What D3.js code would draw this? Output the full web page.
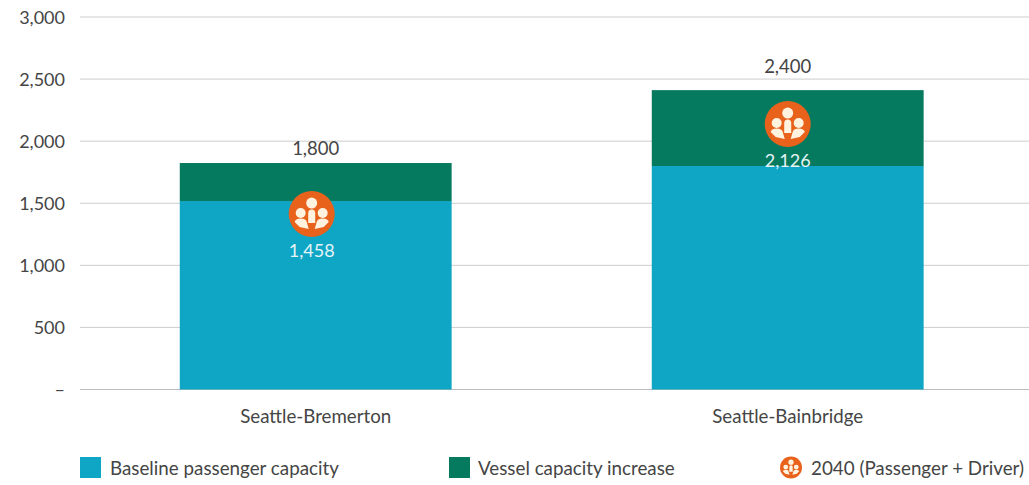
<!DOCTYPE html>
<html><head><meta charset="utf-8">
<script src="https://cdn.jsdelivr.net/npm/d3@7/dist/d3.min.js"></script>
<style>html,body{margin:0;padding:0;background:#fff}svg{display:block}text{font-family:Lato,sans-serif}</style>
</head><body><svg id="c" width="1029" height="485"></svg>
<script>
const categories = ["Seattle-Bremerton", "Seattle-Bainbridge"];
const baseline = [1518, 1800];
const increase = [306, 611];
const totalLabels = ["1,800", "2,400"];
const markerValues = [1413, 2138];
const markerLabels = ["1,458", "2,126"];
const yTicks = [0, 500, 1000, 1500, 2000, 2500, 3000];
const legendLabels = ["Baseline passenger capacity", "Vessel capacity increase", "2040 (Passenger + Driver)"];
const colors = {base:"#0fa5c4", inc:"#067a5f", marker:"#e8621c", grid:"#cdcdcd", text:"#454545"};

const svg = d3.select("#c");
const y = d3.scaleLinear().domain([0,3000]).range([389.5,17]);
const x = d3.scaleBand().domain(categories).range([79.7,1023.7]).paddingInner(0.424).paddingOuter(0.212);

// gridlines + y axis
const yAxis = d3.axisLeft(y).tickValues(yTicks).tickSize(0).tickPadding(0)
  .tickFormat(d => d === 0 ? "\u2013" : d3.format(",")(d));
const gy = svg.append("g").attr("transform","translate(65,0)").call(yAxis);
gy.select(".domain").remove();
gy.selectAll("text").attr("font-size",18).attr("fill",colors.text).attr("x",0).attr("dy","0.35em");
svg.append("g").selectAll("line").data(yTicks).join("line")
  .attr("x1",80).attr("x2",1029)
  .attr("y1",d=>y(d)).attr("y2",d=>y(d))
  .attr("stroke",d=>d===0?"#bdbdbd":colors.grid).attr("stroke-width",1);

// bars
const g = svg.append("g");
g.selectAll(".b").data(categories).join("rect").attr("class","b")
  .attr("x",d=>x(d)).attr("width",x.bandwidth())
  .attr("y",(d,i)=>y(baseline[i])).attr("height",(d,i)=>y(0)-y(baseline[i]))
  .attr("fill",colors.base);
g.selectAll(".i").data(categories).join("rect").attr("class","i")
  .attr("x",d=>x(d)).attr("width",x.bandwidth())
  .attr("y",(d,i)=>y(baseline[i]+increase[i])).attr("height",(d,i)=>y(baseline[i])-y(baseline[i]+increase[i]))
  .attr("fill",colors.inc);

// total labels
const totalGap = [8, 17];
g.selectAll(".t").data(categories).join("text").attr("class","t")
  .attr("x",d=>x(d)+x.bandwidth()/2)
  .attr("y",(d,i)=>y(baseline[i]+increase[i])-totalGap[i])
  .attr("text-anchor","middle").attr("font-size",18.5).attr("fill",colors.text)
  .text((d,i)=>totalLabels[i]);

// person-group icon
function icon(sel, r){
  const s = r/23;
  sel.append("circle").attr("r",r).attr("fill",colors.marker);
  const c = "#fff3e0";
  sel.append("circle").attr("cy",-11*s).attr("r",5.5*s).attr("fill",c);
  sel.append("circle").attr("cx",-11*s).attr("cy",-1*s).attr("r",5*s).attr("fill",c);
  sel.append("circle").attr("cx",11*s).attr("cy",-1*s).attr("r",5*s).attr("fill",c);
  sel.append("path").attr("fill",c)
    .attr("d",`M${-3.5*s},${9*s}L${-3.5*s},${-1*s}A${3.5*s},${3.5*s} 0 0 1 ${3.5*s},${-1*s}L${3.5*s},${9*s}Z`);
  sel.append("path").attr("fill",c)
    .attr("d",`M${-17*s},${8*s}A${6*s},${3.5*s} 0 0 1 ${-5*s},${8*s}L${-3*s},${15*s}L${-12*s},${13*s}Z`);
  sel.append("path").attr("fill",c)
    .attr("d",`M${17*s},${8*s}A${6*s},${3.5*s} 0 0 0 ${5*s},${8*s}L${3*s},${15*s}L${12*s},${13*s}Z`);
}
const markerShift = [-4, 0];
categories.forEach((d,i)=>{
  const cx = x(d)+x.bandwidth()/2+markerShift[i], cy = y(markerValues[i]);
  g.append("g").attr("transform",`translate(${cx},${cy})`).call(icon,23);
  g.append("text").attr("x",cx).attr("y",cy+43)
    .attr("text-anchor","middle").attr("font-size",18).attr("fill","#e4f4f8")
    .text(markerLabels[i]);
});

// x axis labels
const xAxis = d3.axisBottom(x).tickSize(0).tickPadding(0);
const gx = svg.append("g").attr("transform","translate(0,423)").call(xAxis);
gx.select(".domain").remove();
gx.selectAll("text").attr("font-size",18.7).attr("fill",colors.text).attr("y",0).attr("dy",0);

// legend
const ly = 468.5;
svg.append("rect").attr("x",80).attr("y",457).attr("width",21).attr("height",21).attr("fill",colors.base);
svg.append("text").attr("x",110).attr("y",ly+6).attr("font-size",18.8).attr("fill",colors.text).text(legendLabels[0]);
svg.append("rect").attr("x",449).attr("y",457).attr("width",21).attr("height",21).attr("fill",colors.inc);
svg.append("text").attr("x",478).attr("y",ly+6).attr("font-size",18.8).attr("fill",colors.text).text(legendLabels[1]);
svg.append("g").attr("transform",`translate(791,${ly-1})`).call(icon,11);
svg.append("text").attr("x",811).attr("y",ly+6).attr("font-size",18.8).attr("fill",colors.text).text(legendLabels[2]);
</script></body></html>
